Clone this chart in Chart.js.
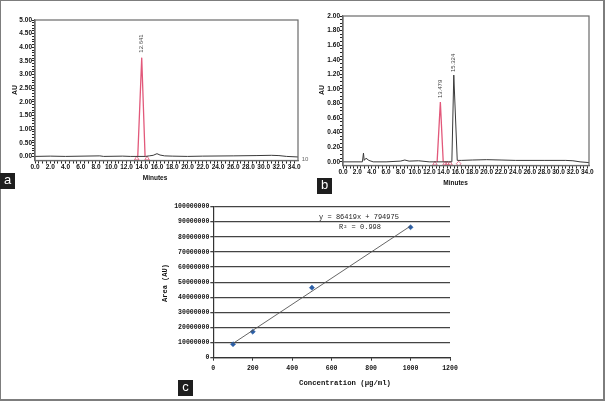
<!DOCTYPE html>
<html><head><meta charset="utf-8">
<script src="https://cdn.jsdelivr.net/npm/chart.js@4.4.0/dist/chart.umd.min.js"></script>
<style>
html,body{margin:0;padding:0;background:#fff;}
#wrap{position:relative;width:605px;height:401px;overflow:hidden;background:#fff;}
canvas{position:absolute;left:0;top:0;}
.frame{position:absolute;left:0;top:0;width:605px;height:401px;box-sizing:border-box;border:1px solid #7d7d7d;border-right-width:2px;border-bottom-width:2px;pointer-events:none;}
.tag{position:absolute;width:15px;height:16px;background:#1e1e1e;color:#fff;font:13px "Liberation Sans",Arial,sans-serif;line-height:14px;text-align:center;}
</style></head>
<body><div id="wrap">
<canvas id="ca" width="605" height="401"></canvas>
<canvas id="cb" width="605" height="401"></canvas>
<canvas id="cc" width="605" height="401"></canvas>
<div class="frame"></div>
<div class="tag" style="left:0px;top:173px">a</div>
<div class="tag" style="left:317px;top:178px">b</div>
<div class="tag" style="left:178px;top:380px">c</div>
</div>
<script>
// ---------- Panel a data (chromatogram) ----------
const aTraceX = [0, 2.0, 4.0, 8.5, 9.0, 11.5, 12.5, 13.5, 14.5, 15.0, 15.5, 16.0, 16.4, 17.0, 18.0, 20.0, 22.0, 26.0, 29.0, 31.0, 32.0, 33.0, 34.5];
const aTraceY = [0.0, 0.01, 0.0, 0.02, 0.0, 0.01, 0.0, 0.0, 0.0, 0.02, 0.04, 0.10, 0.05, 0.02, 0.01, 0.0, 0.01, 0.02, 0.03, 0.04, 0.03, 0.0, -0.02];
const aPeakX = [13.48, 14.0, 14.44];
const aPeakY = [0.0, 3.62, 0.0];
const aMarkX = [13.35, 14.7];
const aMarkY = [-0.08, -0.08];
const aPeakLabels = ['12.641'];
const aXTickValues = [0,2,4,6,8,10,12,14,16,18,20,22,24,26,28,30,32,34];
const aXTickLabels = ['0.0','2.0','4.0','6.0','8.0','10.0','12.0','14.0','16.0','18.0','20.0','22.0','24.0','26.0','28.0','30.0','32.0','34.0'];
const aYTickValues = [0,0.5,1,1.5,2,2.5,3,3.5,4,4.5,5];
const aYTickLabels = ['0.00','0.50','1.00','1.50','2.00','2.50','3.00','3.50','4.00','4.50','5.00'];

// ---------- Panel b data (chromatogram) ----------
const bTraceX = [0, 2.7, 2.85, 2.95, 3.2, 3.6, 4.2, 6.0, 8.0, 8.6, 9.2, 10.5, 12.0, 13.0, 14.1, 15.15, 15.42, 15.9, 16.5, 18.0, 20.0, 22.0, 24.0, 28.0, 31.0, 32.0, 33.0, 34.24];
const bTraceY = [0.0, 0.0, 0.12, 0.02, 0.05, 0.02, 0.0, 0.0, 0.01, 0.025, 0.01, 0.015, 0.0, 0.0, 0.0, 0.0, 1.19, 0.02, 0.02, 0.025, 0.03, 0.025, 0.02, 0.02, 0.02, 0.015, 0.0, -0.01];
const bPeakX = [13.1, 13.55, 13.95];
const bPeakY = [0.0, 0.82, 0.0];
const bMarkX = [12.8, 14.2, 14.5, 14.9];
const bMarkY = [-0.025, -0.025, -0.025, -0.025];
const bDiamondX = [16.1];
const bDiamondY = [-0.025];
const bPeakLabels = ['13.479', '15.324'];
const bXTickValues = aXTickValues;
const bXTickLabels = aXTickLabels;
const bYTickValues = [0,0.2,0.4,0.6,0.8,1.0,1.2,1.4,1.6,1.8,2.0];
const bYTickLabels = ['0.00','0.20','0.40','0.60','0.80','1.00','1.20','1.40','1.60','1.80','2.00'];

// ---------- Panel c data (calibration curve) ----------
const concX = [100, 200, 500, 1000];
const areaY = [8900000, 17200000, 46400000, 86400000];
const slope = 86419, intercept = 794975;
const trendX = [100, 1000];
const cXTickValues = [0,200,400,600,800,1000,1200];
const cXTickLabels = ['0','200','400','600','800','1000','1200'];
const cYTickValues = [0,10000000,20000000,30000000,40000000,50000000,60000000,70000000,80000000,90000000,100000000];
const cYTickLabels = ['0','10000000','20000000','30000000','40000000','50000000','60000000','70000000','80000000','90000000','100000000'];

// ---------- helpers ----------
const pts = (xs, ys) => xs.map((x, i) => ({x: x, y: ys[i]}));
function tickList(max, step){ const r=[]; for(let v=0; v<=max+1e-9; v+=step) r.push(Math.round(v*1000)/1000); return r; }
function labeler(values, labels){ const m=new Map(values.map((v,i)=>[Number(v).toFixed(3), labels[i]])); return v => { const s=m.get(Number(v).toFixed(3)); return s===undefined?'':s; }; }
const SANS = '"Liberation Sans", Arial, sans-serif';
const MONO = '"Liberation Mono", "DejaVu Sans Mono", monospace';

function framePlugin(color){
  return {id:'frame', afterDraw(chart){
    const {ctx, chartArea:a} = chart; ctx.save(); ctx.strokeStyle=color; ctx.lineWidth=1.2;
    ctx.strokeRect(a.left, a.top, a.right-a.left, a.bottom-a.top); ctx.restore(); }};
}
// items: {text, x, y} fixed pixels, or {text, dx, dy(data), off} anchored to data
function textPlugin(items){
  return {id:'texts', afterDraw(chart){
    const ctx = chart.ctx; ctx.save();
    items.forEach(it => {
      let x = it.x, y = it.y;
      if (it.dataX !== undefined){ x = chart.scales.x.getPixelForValue(it.dataX); y = chart.scales.y.getPixelForValue(it.dataY) - (it.off||0); }
      ctx.save(); ctx.translate(x, y); if (it.rot) ctx.rotate(it.rot);
      ctx.font = it.font; ctx.fillStyle = it.color || '#111';
      ctx.textAlign = it.align || 'center'; ctx.textBaseline = it.base || 'middle';
      ctx.fillText(it.text, 0, 0); ctx.restore();
    });
    ctx.restore(); }};
}
const W = 605, H = 401;
Chart.defaults.devicePixelRatio = 1;

function chromOptions(area, xMax, yMin, yMax, xMinor, yMinor, xVals, xLabs, yVals, yLabs, yMajorVals){
  const xAxisH = 30;
  return {
    responsive:false, animation:false, events:[],
    layout:{padding:{left:area.left-area.yw, top:area.top, right:W-area.right, bottom:H-area.bottom-xAxisH}},
    plugins:{legend:{display:false}, tooltip:{enabled:false}, title:{display:false}},
    scales:{
      x:{type:'linear', min:0, max:xMax,
         afterBuildTicks:s=>{ s.ticks = tickList(34, xMinor).map(v=>({value:v})); },
         afterFit:s=>{ s.height = xAxisH; },
         ticks:{autoSkip:false, maxRotation:0, minRotation:0, padding:0, color:'#111', font:{family:SANS, size:6.5, weight:'bold'}, callback:labeler(xVals, xLabs)},
         grid:{drawOnChartArea:false, tickLength:3, color:'#222', lineWidth:1},
         border:{color:'#666', width:1.2}},
      y:{type:'linear', min:yMin, max:yMax,
         afterBuildTicks:s=>{ s.ticks = tickList(yMax, yMinor).map(v=>({value:v})); },
         afterFit:s=>{ s.width = area.yw; },
         ticks:{autoSkip:false, padding:0, color:'#111', font:{family:SANS, size:6.5, weight:'bold'}, callback:labeler(yVals, yLabs)},
         grid:{drawOnChartArea:false, tickLength:3, color:'#222', lineWidth:1},
         border:{color:'#666', width:1.2}}
    }
  };
}

// ---------- Chart a ----------
const RED = '#e2587a';
new Chart(document.getElementById('ca'), {
  type:'scatter',
  data:{datasets:[
    {data:pts(aTraceX,aTraceY), showLine:true, borderColor:'#3a3a3a', borderWidth:1, pointRadius:0, tension:0},
    {data:pts(aPeakX,aPeakY), showLine:true, borderColor:RED, borderWidth:1.3, pointRadius:0, tension:0},
    {data:pts(aMarkX,aMarkY), showLine:false, pointStyle:'triangle', pointRadius:2.6, borderColor:RED, backgroundColor:'rgba(255,255,255,0)', borderWidth:0.8}
  ]},
  options:chromOptions({left:35, top:20, right:298, bottom:160.5, yw:35}, 34.5, -0.15, 5.0, 0.5, 0.1,
                       aXTickValues, aXTickLabels, aYTickValues, aYTickLabels),
  plugins:[framePlugin('#6a6a6a'), textPlugin([
    {text:'AU', x:15, y:90, rot:-Math.PI/2, font:'bold 7px '+SANS},
    {text:'Minutes', x:155, y:178, font:'bold 6.5px '+SANS},
    {text:aPeakLabels[0], dataX:aPeakX[1], dataY:aPeakY[1], off:5, rot:-Math.PI/2, align:'left', font:'6px '+SANS, color:'#444'}
  ])]
});

// ---------- Chart b ----------
new Chart(document.getElementById('cb'), {
  type:'scatter',
  data:{datasets:[
    {data:pts(bTraceX,bTraceY), showLine:true, borderColor:'#3a3a3a', borderWidth:1, pointRadius:0, tension:0},
    {data:pts(bPeakX,bPeakY), showLine:true, borderColor:RED, borderWidth:1.3, pointRadius:0, tension:0},
    {data:pts(bMarkX,bMarkY), showLine:false, pointStyle:'triangle', pointRadius:2.6, borderColor:RED, backgroundColor:'rgba(255,255,255,0)', borderWidth:0.8},
    {data:pts(bDiamondX,bDiamondY), showLine:false, pointStyle:'rectRot', pointRadius:2.4, borderColor:RED, backgroundColor:'rgba(255,255,255,0)', borderWidth:0.8}
  ]},
  options:chromOptions({left:343, top:16, right:589, bottom:165.5, yw:40}, 34.24, -0.05, 2.0, 0.5, 0.05,
                       bXTickValues, bXTickLabels, bYTickValues, bYTickLabels),
  plugins:[framePlugin('#6a6a6a'), textPlugin([
    {text:'AU', x:321.7, y:90, rot:-Math.PI/2, font:'bold 7px '+SANS},
    {text:'Minutes', x:455.5, y:183, font:'bold 6.5px '+SANS},
    {text:'10', x:305, y:159, font:'6px '+SANS, color:'#666'},
    {text:bPeakLabels[0], dataX:bPeakX[1], dataY:bPeakY[1], off:4, rot:-Math.PI/2, align:'left', font:'6px '+SANS, color:'#444'},
    {text:bPeakLabels[1], dataX:bTraceX[16], dataY:bTraceY[16], off:3, rot:-Math.PI/2, align:'left', font:'6px '+SANS, color:'#444'}
  ])]
});

// ---------- Chart c ----------
const cArea = {left:213.3, top:206.7, right:450, bottom:357.7, yw:60};
new Chart(document.getElementById('cc'), {
  type:'scatter',
  data:{datasets:[
    {data:trendX.map(x=>({x:x, y:slope*x+intercept})), showLine:true, borderColor:'#555', borderWidth:0.9, pointRadius:0, tension:0},
    {data:pts(concX,areaY), showLine:false, pointStyle:'rectRot', pointRadius:2.6, borderColor:'#2b5ea6', backgroundColor:'#2b5ea6', borderWidth:0.5}
  ]},
  options:{
    responsive:false, animation:false, events:[],
    layout:{padding:{left:cArea.left-cArea.yw, top:cArea.top, right:W-cArea.right, bottom:H-cArea.bottom-20}},
    plugins:{legend:{display:false}, tooltip:{enabled:false}},
    scales:{
      x:{type:'linear', min:0, max:1200,
         afterBuildTicks:s=>{ s.ticks = cXTickValues.map(v=>({value:v})); },
         afterFit:s=>{ s.height = 20; },
         ticks:{autoSkip:false, maxRotation:0, padding:4, color:'#111', font:{family:MONO, size:6.5, weight:'bold'}, callback:labeler(cXTickValues, cXTickLabels)},
         grid:{drawOnChartArea:false, tickLength:3, color:'#333'},
         border:{color:'#333', width:1.2}},
      y:{type:'linear', min:0, max:100000000,
         afterBuildTicks:s=>{ s.ticks = cYTickValues.map(v=>({value:v})); },
         afterFit:s=>{ s.width = cArea.yw; },
         ticks:{autoSkip:false, padding:1, color:'#111', font:{family:MONO, size:6.5, weight:'bold'}, callback:labeler(cYTickValues, cYTickLabels)},
         grid:{color:'#444', lineWidth:1.3, tickLength:3},
         border:{color:'#333', width:1.2}}
    }
  },
  plugins:[textPlugin([
    {text:'Area (AU)', x:165, y:283, rot:-Math.PI/2, font:'bold 7px '+MONO},
    {text:'Concentration (\u03bcg/ml)', x:345, y:383, font:'bold 7.3px '+MONO},
    {text:'y = 86419x + 794975', x:359, y:217, font:'7px '+MONO, color:'#222'},
    {text:'R\u00b2 = 0.998', x:360, y:227, font:'7px '+MONO, color:'#222'}
  ])]
});
</script>
</body></html>
